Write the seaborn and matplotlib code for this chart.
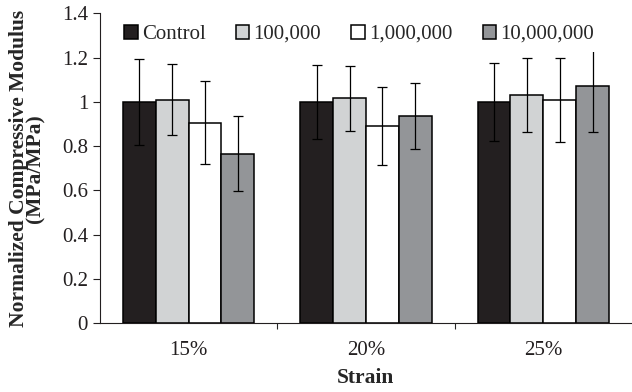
import pandas as pd
import seaborn as sns
import matplotlib.pyplot as plt
from matplotlib.ticker import FixedLocator

strains = ["15%", "20%", "25%"]
groups = ["Control", "100,000", "1,000,000", "10,000,000"]
# mean normalized modulus per group, one value per strain
means = {
    "Control":    [1.00, 1.00, 1.00],
    "100,000":    [1.01, 1.015, 1.03],
    "1,000,000":  [0.905, 0.89, 1.01],
    "10,000,000": [0.765, 0.935, 1.07],
}
errors = {
    "Control":    [0.195, 0.166, 0.176],
    "100,000":    [0.16, 0.147, 0.168],
    "1,000,000":  [0.188, 0.177, 0.19],
    "10,000,000": [0.17, 0.15, 0.205],
}
colors = ["#231f20", "#d1d3d4", "#ffffff", "#939598"]

rows = []
for g in groups:
    for s, m in zip(strains, means[g]):
        rows.append({"Strain": s, "group": g, "value": m})
df = pd.DataFrame(rows)

sns.set_style("ticks")
plt.rcParams["font.family"] = ["Liberation Serif", "DejaVu Serif"]

fig = plt.figure(figsize=(6.32, 3.92), dpi=100)
ax = fig.add_axes([0.158, 0.176, 0.842, 0.79])

sns.barplot(data=df, x="Strain", y="value", hue="group", order=strains,
            hue_order=groups, palette=colors, width=0.74, errorbar=None,
            edgecolor="black", linewidth=1.1, saturation=1, ax=ax)

# error bars on top of each bar
for g, cont in zip(groups, ax.containers):
    xs = [p.get_x() + p.get_width() / 2 for p in cont.patches]
    ax.errorbar(xs, means[g], yerr=errors[g], fmt="none", ecolor="black",
                elinewidth=0.9, capsize=3.6, capthick=0.9, zorder=5)

ax.set_ylim(0, 1.4)
ax.set_xlim(-0.5, 2.5)
ax.set_yticks([0, 0.2, 0.4, 0.6, 0.8, 1.0, 1.2, 1.4])
ax.set_yticklabels(["0", "0.2", "0.4", "0.6", "0.8", "1", "1.2", "1.4"])
ax.tick_params(axis="y", length=5, width=0.8, labelsize=15, colors="#231f20")
ax.tick_params(axis="x", which="major", length=0, labelsize=15, pad=13,
               colors="#231f20")
ax.xaxis.set_minor_locator(FixedLocator([0.5, 1.5]))
ax.tick_params(axis="x", which="minor", length=4, width=0.8, direction="out")

for side in ["top", "right"]:
    ax.spines[side].set_visible(False)
for side in ["left", "bottom"]:
    ax.spines[side].set_linewidth(0.8)
    ax.spines[side].set_color("#231f20")

ax.set_xlabel("Strain", fontsize=15.5, fontweight="bold", labelpad=6)
ax.set_ylabel("Normalized Compressive Modulus\n(MPa/MPa)", fontsize=15.5,
              fontweight="bold", linespacing=0.78, labelpad=12)

# white legend box hides the top of the tallest error bar, as in the original
leg = ax.legend(loc="upper left", bbox_to_anchor=(0.03, 0.99), ncol=4,
                frameon=True, fontsize=15, handlelength=0.65,
                handleheight=0.65, handletextpad=0.2, columnspacing=1.45,
                borderaxespad=0, borderpad=0.4, fancybox=False)
leg.get_frame().set_facecolor("white")
leg.get_frame().set_edgecolor("none")
leg.get_frame().set_alpha(1)
leg.set_zorder(10)

fig.savefig("out.png", dpi=100)
